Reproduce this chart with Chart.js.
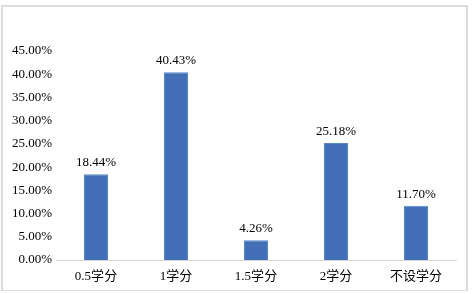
<!DOCTYPE html>
<html lang="zh">
<head>
<meta charset="UTF-8">
<title>学分分布</title>
<script src="https://cdn.jsdelivr.net/npm/chart.js"></script>
<style>
  body { margin: 0; background: #fff; }
  #wrap { position: relative; width: 472px; height: 294px; }
  #frame { position: absolute; left: 1px; top: 5px; width: 467px; height: 286px; border: 2px solid #dcdcdc; box-sizing: border-box; border-bottom-width: 1px; }
</style>
</head>
<body>
<div id="wrap">
  <canvas id="chart" width="472" height="294"></canvas>
  <div id="frame"></div>
</div>
<script>
// categories and values (fractions)
const categories = ['0.5学分', '1学分', '1.5学分', '2学分', '不设学分'];
const values = [0.1844, 0.4043, 0.0426, 0.2518, 0.1170];
const yTicks = [0, 0.05, 0.10, 0.15, 0.20, 0.25, 0.30, 0.35, 0.40, 0.45];

const fontFamily = '"Liberation Serif", "Times New Roman", "Noto Sans CJK SC", serif';

// draws the percentage above each bar
const valueLabels = {
  id: 'valueLabels',
  afterDatasetsDraw(chart) {
    const ctx = chart.ctx;
    ctx.save();
    ctx.font = '13px ' + fontFamily;
    ctx.fillStyle = '#000';
    ctx.textAlign = 'center';
    ctx.textBaseline = 'bottom';
    chart.getDatasetMeta(0).data.forEach((bar, i) => {
      ctx.fillText((values[i] * 100).toFixed(2) + '%', bar.x, bar.y - 5);
    });
    ctx.restore();
  }
};

new Chart(document.getElementById('chart').getContext('2d'), {
  type: 'bar',
  data: {
    labels: categories,
    datasets: [{
      data: values,
      backgroundColor: '#4170B8',
      borderColor: '#5a86cc',
      borderWidth: 1,
      barPercentage: 0.3,
      categoryPercentage: 1
    }]
  },
  options: {
    responsive: false,
    animation: false,
    layout: { padding: { left: 0, top: 51, right: 16, bottom: 0 } },
    plugins: { legend: { display: false }, tooltip: { enabled: false } },
    scales: {
      y: {
        min: 0,
        max: 0.45,
        afterFit(scale) { scale.width = 56; },
        afterBuildTicks(scale) { scale.ticks = yTicks.map(v => ({ value: v })); },
        grid: { display: false, drawTicks: false },
        border: { display: false },
        ticks: {
          padding: 4,
          color: '#000',
          font: { family: fontFamily, size: 13 },
          callback: v => (Math.round(v * 10000) / 100).toFixed(2) + '%'
        }
      },
      x: {
        afterFit(scale) { scale.height = 34; },
        grid: { display: false, drawTicks: false },
        border: { display: true, color: '#d9d9d9', width: 1 },
        ticks: {
          padding: 9,
          color: '#000',
          font: { family: fontFamily, size: 13 }
        }
      }
    }
  },
  plugins: [valueLabels]
});
</script>
</body>
</html>
